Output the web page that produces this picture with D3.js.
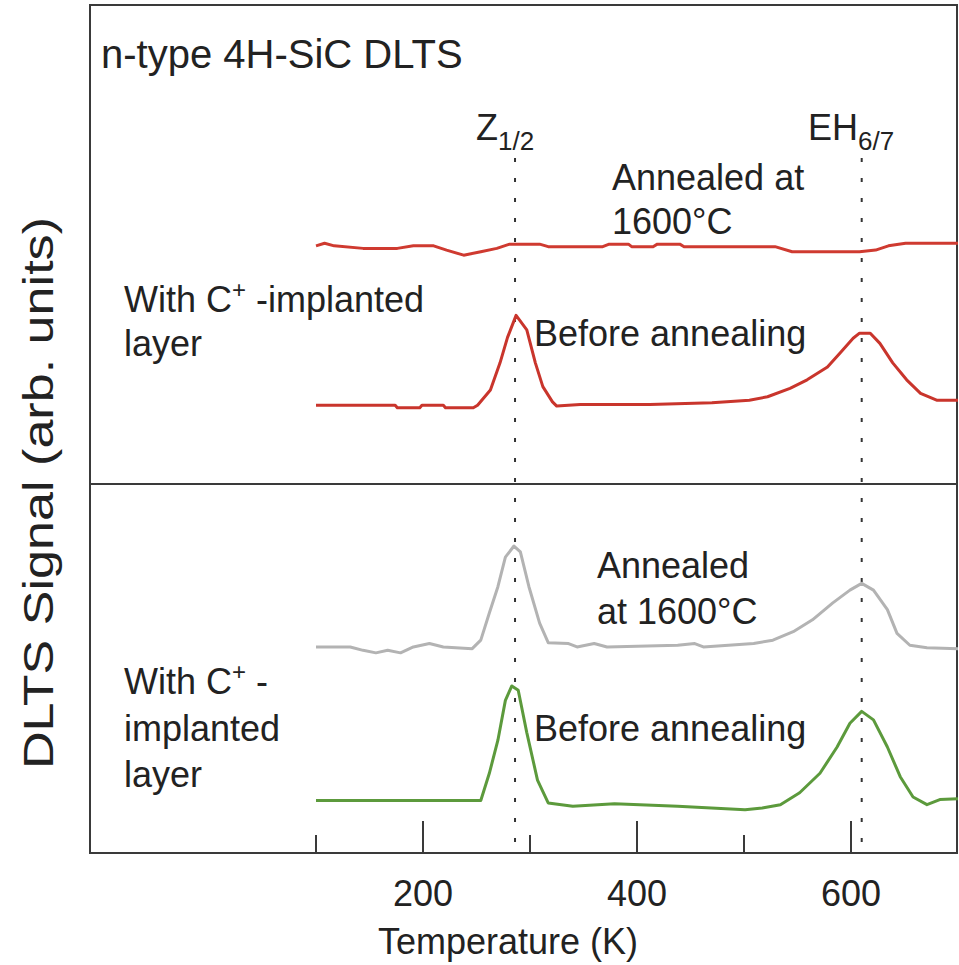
<!DOCTYPE html>
<html>
<head>
<meta charset="utf-8">
<script src="https://cdn.jsdelivr.net/npm/d3@7"></script>
<style>
  body { margin: 0; background: #fff; }
  svg { display: block; font-family: "Liberation Sans", Arial, Helvetica, sans-serif; }
</style>
</head>
<body>
<svg id="chart"></svg>
<script>
// x axis (K)
const tickValues = [100, 200, 300, 400, 500, 600, 700];
const labeledTicks = [200, 400, 600];

// trap peak positions (K)
const zPeak = 286;
const ehPeak = 610;

// upper panel: red curves [T (K), signal]
const topAnnealed = [
  [100,71.6],[108,71.9],[117,71.6],[144,71.3],[176,71.3],[191,71.6],[210,71.6],[222,71.1],
  [238,70.5],[254,70.9],[269,71.3],[281,71.8],[309,71.8],[317,71.5],[368,71.5],[374,71.8],
  [392,71.8],[395,71.5],[415,71.5],[419,71.8],[440,71.8],[444,71.5],[529,71.5],[545,70.9],
  [608,70.9],[623,71.1],[635,71.6],[651,71.9],[700,71.9]
];
const topBefore = [
  [100,52.8],[174,52.8],[176,52.5],[197,52.5],[199,52.8],[219,52.8],[221,52.5],[247,52.5],
  [251,52.8],[263,54.6],[272,57.8],[279,60.8],[287,63.4],[297,61.7],[305,57.8],[312,55.0],
  [321,53.2],[325,52.7],[347,52.9],[412,52.9],[470,53.1],[505,53.4],[522,53.8],[543,54.8],
  [559,55.8],[578,57.3],[590,59.0],[602,60.7],[608,61.3],[618,61.3],[627,60.1],[639,57.8],
  [652,55.8],[665,54.2],[680,53.4],[700,53.4]
];

// lower panel: gray (annealed) and green (before)
const botAnnealed = [
  [100,24.3],[132,24.3],[144,23.9],[156,23.6],[167,23.9],[179,23.6],[191,24.3],[206,24.7],
  [219,24.3],[246,24.1],[254,25.1],[262,28.3],[270,31.4],[277,34.9],[285,36.2],[291,35.5],
  [299,31.4],[309,27.1],[317,24.8],[336,24.7],[344,24.3],[360,24.7],[372,24.3],[438,24.5],
  [454,24.7],[462,24.3],[509,24.7],[527,25.1],[546,26.1],[564,27.5],[583,29.5],[599,31.0],
  [610,31.8],[621,31.0],[634,28.7],[643,25.9],[655,24.5],[671,24.2],[700,24.1]
];
const botBefore = [
  [100,6.2],[254,6.2],[262,9.4],[270,13.3],[277,18.0],[283,19.7],[289,19.2],[297,14.2],
  [307,8.6],[317,5.9],[340,5.5],[379,5.8],[438,5.5],[501,5.1],[517,5.3],[534,5.7],
  [552,7.1],[571,9.4],[587,12.5],[599,15.3],[610,16.7],[621,15.7],[634,12.5],[646,9.0],
  [658,6.6],[671,5.7],[683,6.3],[700,6.4]
];

const width = 959, height = 965;
const marginTop = 5, marginRight = 1, marginBottom = 112, marginLeft = 90;
const dataLeft = 316;   // the traces start at 100 K, well right of the frame
const textColor = "#222";

const svg = d3.select("#chart")
    .attr("width", width)
    .attr("height", height)
    .attr("viewBox", `0 0 ${width} ${height}`);

const x = d3.scaleLinear()
    .domain([100, 700])
    .range([dataLeft, width - marginRight]);

const y = d3.scaleLinear()
    .domain([0, 100])
    .range([height - marginBottom, marginTop]);

const line = d3.line()
    .x(d => x(d[0]))
    .y(d => y(d[1]));

// frame
svg.append("rect")
    .attr("x", marginLeft)
    .attr("y", marginTop)
    .attr("width", width - marginRight - marginLeft - 1)
    .attr("height", height - marginBottom - marginTop)
    .attr("fill", "none")
    .attr("stroke", "#3a3a3a")
    .attr("stroke-width", 2);

// panel divider
svg.append("line")
    .attr("x1", marginLeft).attr("x2", width - marginRight)
    .attr("y1", y(43.5)).attr("y2", y(43.5))
    .attr("stroke", "#3a3a3a")
    .attr("stroke-width", 2);

// ticks (inward)
svg.append("g")
    .attr("stroke", "#3a3a3a")
    .attr("stroke-width", 2)
  .selectAll("line")
  .data(tickValues.slice(0, -1))
  .join("line")
    .attr("x1", d => x(d)).attr("x2", d => x(d))
    .attr("y1", height - marginBottom)
    .attr("y2", d => height - marginBottom - (labeledTicks.includes(d) ? 32 : 18));

svg.append("g")
    .attr("fill", textColor)
    .attr("font-size", 36)
    .attr("text-anchor", "middle")
  .selectAll("text")
  .data(labeledTicks)
  .join("text")
    .attr("x", d => x(d))
    .attr("y", 906)
    .text(d => d);

svg.append("text")
    .attr("x", 508)
    .attr("y", 954)
    .attr("text-anchor", "middle")
    .attr("font-size", 36)
    .attr("fill", textColor)
    .text("Temperature (K)");

// y label is drawn a bit stretched along its length, like the source
svg.append("text")
    .attr("transform", "translate(53,493) rotate(-90)")
    .attr("text-anchor", "middle")
    .attr("font-size", 42)
    .attr("textLength", 552)
    .attr("lengthAdjust", "spacingAndGlyphs")
    .attr("fill", textColor)
    .text("DLTS Signal (arb. units)");

// dotted peak markers
svg.append("g")
    .attr("stroke", "#333")
    .attr("stroke-width", 2)
    .attr("stroke-dasharray", "4 16")
  .selectAll("line")
  .data([zPeak, ehPeak])
  .join("line")
    .attr("x1", d => x(d)).attr("x2", d => x(d))
    .attr("y1", 158)
    .attr("y2", height - marginBottom);

// traces
const series = [
  {data: topAnnealed, color: "#cf3a30"},
  {data: topBefore, color: "#c9352c"},
  {data: botAnnealed, color: "#b3b3b3"},
  {data: botBefore, color: "#5c9a3c"}
];
svg.append("g")
    .attr("fill", "none")
    .attr("stroke-width", 3)
    .attr("stroke-linejoin", "round")
  .selectAll("path")
  .data(series)
  .join("path")
    .attr("stroke", d => d.color)
    .attr("d", d => line(d.data));

// annotations
const ann = svg.append("g")
    .attr("fill", textColor)
    .attr("font-size", 36);

function label(xp, yp, parts, size) {
  const t = ann.append("text").attr("x", xp).attr("y", yp);
  if (size) t.attr("font-size", size);
  parts.forEach(p => {
    const s = t.append("tspan").text(p.t);
    if (p.size) s.attr("font-size", p.size);
    if (p.dy) s.attr("dy", p.dy);
  });
  return t;
}

label(101, 68, [{t: "n-type 4H-SiC DLTS"}], 40);

label(476, 140, [{t: "Z"}, {t: "1/2", size: 26, dy: 10}]);
label(808, 140, [{t: "EH"}, {t: "6/7", size: 26, dy: 10}]);

label(612, 190, [{t: "Annealed at"}]);
label(612, 234, [{t: "1600°C"}]);
label(124, 312, [{t: "With C"}, {t: "+", size: 24, dy: -14}, {t: " -implanted", dy: 14}]);
label(124, 356, [{t: "layer"}]);
label(534, 346, [{t: "Before annealing"}]);

label(597, 578, [{t: "Annealed"}]);
label(597, 624, [{t: "at 1600°C"}]);
label(124, 694, [{t: "With C"}, {t: "+", size: 24, dy: -14}, {t: " -", dy: 14}]);
label(124, 741, [{t: "implanted"}]);
label(124, 787, [{t: "layer"}]);
label(534, 741, [{t: "Before annealing"}]);
</script>
</body>
</html>
